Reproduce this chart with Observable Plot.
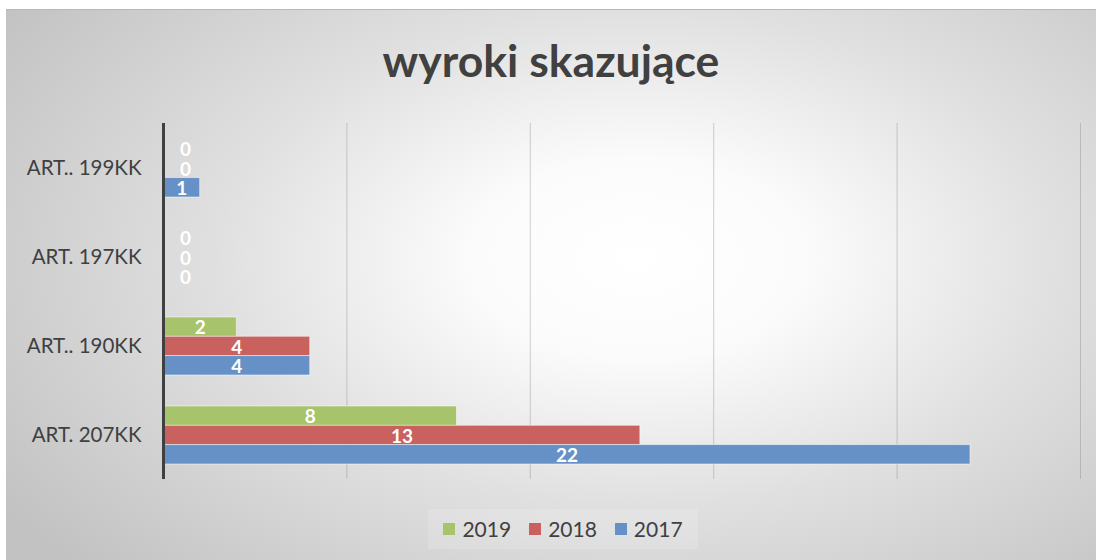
<!DOCTYPE html>
<html><head><meta charset="utf-8">
<script src="https://cdn.jsdelivr.net/npm/d3@7"></script>
<script src="https://cdn.jsdelivr.net/npm/@observablehq/plot@0.6"></script>
<style>
html,body{margin:0;padding:0;background:#fff;width:1096px;height:560px;overflow:hidden;}
#frame{position:absolute;left:6px;top:9px;width:1090px;height:551px;
 background:radial-gradient(ellipse 70% 82% at 58% 45%, #ffffff 0%, #fbfbfb 22%, #e0e0e0 55%, #c2c2c2 100%);
 border-top:1px solid #b8b8b8;font-family:Lato, "Open Sans", sans-serif;}
#title{position:absolute;left:0;width:1090px;top:23px;text-align:center;font-size:44.5px;font-weight:bold;color:#404040;}
#chart{position:absolute;left:0;top:91px;}
#legendwrap{position:absolute;left:12px;width:1090px;top:499px;display:flex;justify-content:center;}
#legend{display:flex;justify-content:center;gap:18px;font-size:21px;color:#404040;padding:7px 15px 8px 15px;background:rgba(255,255,255,0.15);}
#legend span.item{display:flex;align-items:center;gap:7px;}
#legend span.sw{display:inline-block;width:12px;height:12px;}
</style></head>
<body>
<div id="frame">
  <div id="title">wyroki skazujące</div>
  <div id="chart"></div>
  <div id="legendwrap"><div id="legend"></div></div>
</div>
<script>
const categories = ["ART.. 199KK", "ART. 197KK", "ART.. 190KK", "ART. 207KK"];
const values2019 = [0, 0, 2, 8];
const values2018 = [0, 0, 4, 13];
const values2017 = [1, 0, 4, 22];
const seriesNames = ["2019", "2018", "2017"];
const seriesColors = ["#a7c36b", "#c9625f", "#6691c6"];
const gridTicks = [5, 10, 15, 20, 25];

const seriesValues = [values2019, values2018, values2017];
const rows = [];
seriesNames.forEach((s, si) => {
  categories.forEach((c, ci) => rows.push({cat: c, series: s, si, value: seriesValues[si][ci]}));
});

const H = 390, mt = 22, mb = 12;
const step = (H - mt - mb) / categories.length;
const bw = step * 0.65;
const sub = bw / 3;

const marks = [
  Plot.ruleX(gridTicks, {stroke: "#7f7f7f", strokeOpacity: 0.35, strokeWidth: 1})
];
seriesNames.forEach((s, si) => {
  const d = rows.filter(r => r.series === s);
  marks.push(Plot.barX(d, {
    x: "value", y: "cat", fill: seriesColors[si],
    stroke: "#ffffff", strokeOpacity: 0.5, strokeWidth: 1,
    insetTop: sub * si, insetBottom: sub * (2 - si)
  }));
  marks.push(Plot.text(d.filter(r => r.value > 0), {
    x: r => r.value / 2, y: "cat", text: r => String(r.value),
    dy: (si - 1) * sub + 1, fill: "white", fontWeight: "bold", fontSize: 19
  }));
  marks.push(Plot.text(d.filter(r => r.value === 0), {
    x: "value", y: "cat", text: r => String(r.value),
    dx: 22, dy: (si - 1) * sub + 1, fill: "white", fontWeight: "bold", fontSize: 19
  }));
});
marks.push(Plot.ruleX([0], {stroke: "#404040", strokeWidth: 3}));
marks.push(Plot.axisY({tickSize: 0, tickPadding: 22, fontSize: 20.5, label: null, fill: "#404040"}));

const chart = Plot.plot({
  width: 1090, height: H,
  marginLeft: 157, marginRight: 16, marginTop: mt, marginBottom: mb,
  style: {background: "transparent", fontFamily: "Lato, 'Open Sans', sans-serif", color: "#404040"},
  x: {domain: [0, 25], axis: null},
  y: {domain: categories, paddingInner: 0.35, paddingOuter: 0.175, axis: null},
  marks
});
document.getElementById("chart").appendChild(chart);

const legend = document.getElementById("legend");
seriesNames.forEach((s, i) => {
  const it = document.createElement("span"); it.className = "item";
  const sw = document.createElement("span"); sw.className = "sw"; sw.style.background = seriesColors[i];
  const t = document.createElement("span"); t.textContent = s;
  it.appendChild(sw); it.appendChild(t); legend.appendChild(it);
});
</script>
</body></html>
